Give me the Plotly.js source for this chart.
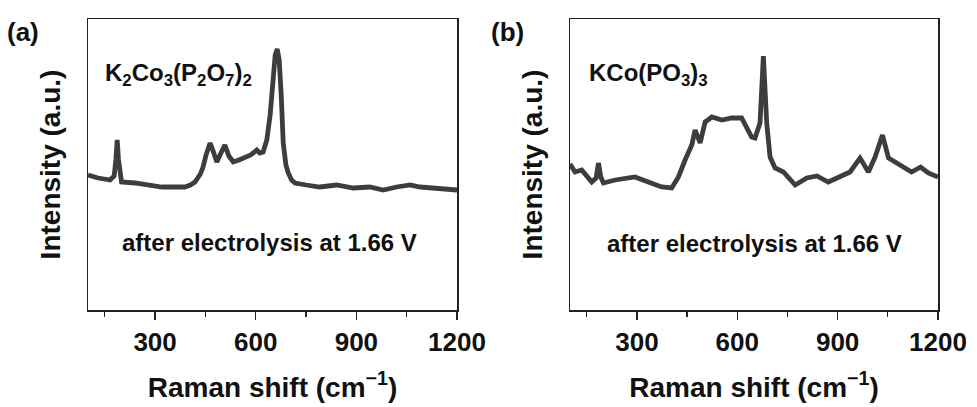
<!DOCTYPE html>
<html>
<head>
<meta charset="utf-8">
<script src="https://cdn.plot.ly/plotly-3.0.1.min.js"></script>
<style>html,body{margin:0;padding:0;background:#fff;}#chart{width:977px;height:407px;}</style>
</head>
<body>
<div id="chart"></div>
<script>
// Panel (a): K2Co3(P2O7)2 Raman spectrum (arbitrary units)
const shiftA = [100,130,166,178,183,187,191,196,200,240,280,320,360,389,405,419,435,443,452,464,474,484,495,508,520,533,550,568,585,603,612,622,633,643,652,658,664,670,676,682,690,697,707,717,750,791,841,891,940,980,1020,1060,1090,1120,1160,1200];
const intensityA = [135,132,130,134,150,170,150,133,128,127,125,123,123,123,125,128,136,143,155,167,158,148,156,165,154,148,150,152,155,160,157,158,170,195,230,255,261,250,215,167,145,137,130,127,125,123,125,122,123,120,123,125,123,122,121,120];

// Panel (b): KCo(PO3)3 Raman spectrum (arbitrary units)
const shiftB = [100,115,135,150,165,178,185,192,200,235,264,294,334,374,404,424,444,464,474,482,489,504,524,554,583,613,628,643,653,668,678,688,698,713,738,773,808,838,872,907,937,967,992,1012,1034,1052,1087,1121,1148,1171,1200];
const intensityB = [146,138,140,133,128,132,147,133,127,130,132,133,128,123,122,133,150,165,180,172,167,188,193,190,192,192,183,173,172,187,254,187,153,142,138,125,132,134,128,133,138,152,138,153,175,152,145,138,143,137,133];

const xTickVals = [300,600,900,1200];
const xTickText = ['300','600','900','1200'];
const panelLabels = ['(a)','(b)'];
const sampleNames = ['K<sub>2</sub>Co<sub>3</sub>(P<sub>2</sub>O<sub>7</sub>)<sub>2</sub>','KCo(PO<sub>3</sub>)<sub>3</sub>'];
const conditionText = 'after electrolysis at 1.66 V';
const xTitle = 'Raman shift (cm<sup>−1</sup>)';
const yTitle = 'Intensity (a.u.)';

const FONT = 'Liberation Sans, Arial, sans-serif';
const lineColor = '#3d3d3d';

const traces = [
  {x: shiftA, y: intensityA, xaxis:'x', yaxis:'y', type:'scatter', mode:'lines',
   line:{color:lineColor, width:4.8}, hoverinfo:'skip'},
  {x: shiftB, y: intensityB, xaxis:'x2', yaxis:'y2', type:'scatter', mode:'lines',
   line:{color:lineColor, width:4.8}, hoverinfo:'skip'}
];

function xAxis(domain, anchor){
  return {
    domain: domain, anchor: anchor, range:[100,1200],
    tickmode:'array', tickvals:xTickVals, ticktext:xTickText,
    ticks:'outside', ticklen:8, tickwidth:1.5, tickcolor:'#222',
    minor:{tick0:0, dtick:150, ticks:'outside', ticklen:5, tickwidth:1.3, tickcolor:'#222', showgrid:false},
    showline:true, linecolor:'#222', linewidth:1.5, mirror:true,
    showgrid:false, zeroline:false,
    tickfont:{family:FONT, size:26, color:'#111', weight:'bold'},
    title:{text:'<b>'+xTitle+'</b>', font:{family:FONT, size:28, color:'#111'}, standoff:21},
    automargin:false
  };
}
function yAxis(domain, anchor){
  return {
    domain: domain, anchor: anchor, range:[0,291],
    showticklabels:false, ticks:'',
    showline:true, linecolor:'#222', linewidth:1.5, mirror:true,
    showgrid:false, zeroline:false,
    title:{text:'<b>'+yTitle+'</b>', font:{family:FONT, size:28, color:'#111'}, standoff:17},
    automargin:false
  };
}

const yDom = [(407-310)/407, (407-19)/407];
const layout = {
  width:977, height:407,
  margin:{l:0, r:0, t:0, b:0},
  paper_bgcolor:'#fff', plot_bgcolor:'#fff',
  showlegend:false,
  xaxis: xAxis([88/977, 457/977], 'y'),
  yaxis: yAxis(yDom, 'x'),
  xaxis2: xAxis([570/977, 938/977], 'y2'),
  yaxis2: yAxis(yDom, 'x2'),
  annotations: [
    {text:'<b>'+panelLabels[0]+'</b>', xref:'paper', yref:'paper', x:23/977, y:1-32/407, xanchor:'center', yanchor:'middle', showarrow:false, font:{family:FONT, size:26, color:'#111'}},
    {text:'<b>'+panelLabels[1]+'</b>', xref:'paper', yref:'paper', x:507/977, y:1-32/407, xanchor:'center', yanchor:'middle', showarrow:false, font:{family:FONT, size:26, color:'#111'}},
    {text:'<b>'+sampleNames[0]+'</b>', xref:'paper', yref:'paper', x:103/977, y:1-74/407, xanchor:'left', yanchor:'middle', showarrow:false, font:{family:FONT, size:24, color:'#111'}},
    {text:'<b>'+sampleNames[1]+'</b>', xref:'paper', yref:'paper', x:587/977, y:1-74/407, xanchor:'left', yanchor:'middle', showarrow:false, font:{family:FONT, size:24, color:'#111'}},
    {text:'<b>'+conditionText+'</b>', xref:'paper', yref:'paper', x:269/977, y:1-242/407, xanchor:'center', yanchor:'middle', showarrow:false, font:{family:FONT, size:24, color:'#111'}},
    {text:'<b>'+conditionText+'</b>', xref:'paper', yref:'paper', x:754/977, y:1-243/407, xanchor:'center', yanchor:'middle', showarrow:false, font:{family:FONT, size:24, color:'#111'}}
  ]
};

Plotly.newPlot('chart', traces, layout, {staticPlot:true, displayModeBar:false});
</script>
</body>
</html>
